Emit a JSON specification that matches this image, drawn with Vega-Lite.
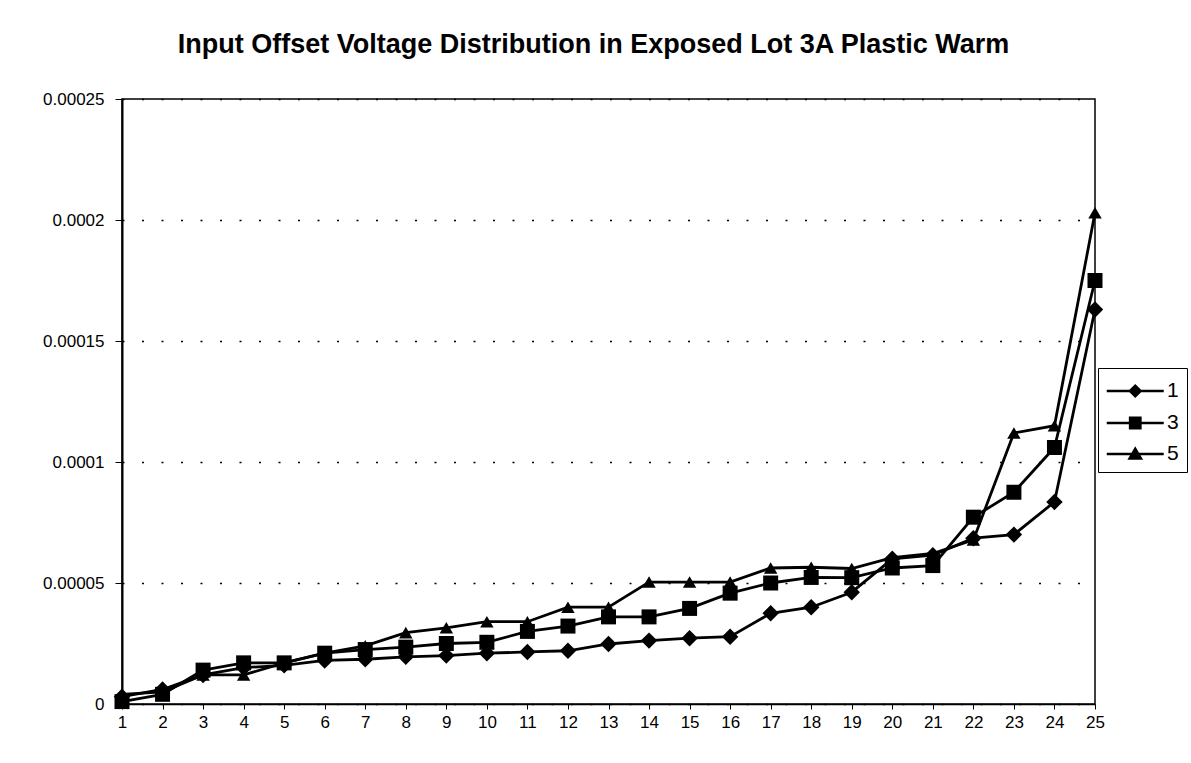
{
  "$schema": "https://vega.github.io/schema/vega-lite/v6.json",
  "width": 973,
  "height": 605,
  "autosize": {"type": "none"},
  "padding": {"left": 122, "top": 99, "right": 96, "bottom": 59},
  "background": "white",
  "title": {
    "text": "Input Offset Voltage Distribution in Exposed Lot 3A Plastic Warm",
    "font": "Liberation Sans",
    "fontSize": 27,
    "fontWeight": "bold",
    "color": "black",
    "anchor": "middle",
    "offset": 31,
    "dx": -15
  },
  "data": {
    "values": [
      {"n": 1, "s": "1", "v": 0.000003}, {"n": 2, "s": "1", "v": 0.000006}, {"n": 3, "s": "1", "v": 0.000012}, {"n": 4, "s": "1", "v": 0.000015}, {"n": 5, "s": "1", "v": 0.000016},
      {"n": 6, "s": "1", "v": 0.000018}, {"n": 7, "s": "1", "v": 0.0000185}, {"n": 8, "s": "1", "v": 0.0000195}, {"n": 9, "s": "1", "v": 0.00002}, {"n": 10, "s": "1", "v": 0.000021},
      {"n": 11, "s": "1", "v": 0.0000215}, {"n": 12, "s": "1", "v": 0.000022}, {"n": 13, "s": "1", "v": 0.0000248}, {"n": 14, "s": "1", "v": 0.0000262}, {"n": 15, "s": "1", "v": 0.0000272},
      {"n": 16, "s": "1", "v": 0.0000278}, {"n": 17, "s": "1", "v": 0.0000375}, {"n": 18, "s": "1", "v": 0.00004}, {"n": 19, "s": "1", "v": 0.0000462}, {"n": 20, "s": "1", "v": 0.00006},
      {"n": 21, "s": "1", "v": 0.0000615}, {"n": 22, "s": "1", "v": 0.0000685}, {"n": 23, "s": "1", "v": 0.00007}, {"n": 24, "s": "1", "v": 0.0000835}, {"n": 25, "s": "1", "v": 0.000163},
      {"n": 1, "s": "3", "v": 0.000001}, {"n": 2, "s": "3", "v": 0.000004}, {"n": 3, "s": "3", "v": 0.000014}, {"n": 4, "s": "3", "v": 0.000017}, {"n": 5, "s": "3", "v": 0.000017},
      {"n": 6, "s": "3", "v": 0.000021}, {"n": 7, "s": "3", "v": 0.0000225}, {"n": 8, "s": "3", "v": 0.0000235}, {"n": 9, "s": "3", "v": 0.000025}, {"n": 10, "s": "3", "v": 0.0000255},
      {"n": 11, "s": "3", "v": 0.00003}, {"n": 12, "s": "3", "v": 0.0000322}, {"n": 13, "s": "3", "v": 0.000036}, {"n": 14, "s": "3", "v": 0.000036}, {"n": 15, "s": "3", "v": 0.0000395},
      {"n": 16, "s": "3", "v": 0.0000458}, {"n": 17, "s": "3", "v": 0.00005}, {"n": 18, "s": "3", "v": 0.0000523}, {"n": 19, "s": "3", "v": 0.0000522}, {"n": 20, "s": "3", "v": 0.0000562},
      {"n": 21, "s": "3", "v": 0.0000572}, {"n": 22, "s": "3", "v": 0.0000772}, {"n": 23, "s": "3", "v": 0.0000875}, {"n": 24, "s": "3", "v": 0.000106}, {"n": 25, "s": "3", "v": 0.000175},
      {"n": 1, "s": "5", "v": 0.000004}, {"n": 2, "s": "5", "v": 0.000005}, {"n": 3, "s": "5", "v": 0.000012}, {"n": 4, "s": "5", "v": 0.000012}, {"n": 5, "s": "5", "v": 0.000017},
      {"n": 6, "s": "5", "v": 0.000021}, {"n": 7, "s": "5", "v": 0.000024}, {"n": 8, "s": "5", "v": 0.0000295}, {"n": 9, "s": "5", "v": 0.0000315}, {"n": 10, "s": "5", "v": 0.000034},
      {"n": 11, "s": "5", "v": 0.000034}, {"n": 12, "s": "5", "v": 0.00004}, {"n": 13, "s": "5", "v": 0.00004}, {"n": 14, "s": "5", "v": 0.0000504}, {"n": 15, "s": "5", "v": 0.0000504},
      {"n": 16, "s": "5", "v": 0.0000504}, {"n": 17, "s": "5", "v": 0.0000562}, {"n": 18, "s": "5", "v": 0.0000565}, {"n": 19, "s": "5", "v": 0.000056}, {"n": 20, "s": "5", "v": 0.0000605},
      {"n": 21, "s": "5", "v": 0.0000622}, {"n": 22, "s": "5", "v": 0.0000678}, {"n": 23, "s": "5", "v": 0.000112}, {"n": 24, "s": "5", "v": 0.000115}, {"n": 25, "s": "5", "v": 0.000203}
    ]
  },
  "encoding": {
    "x": {
      "field": "n",
      "type": "ordinal",
      "scale": {"type": "point", "padding": 0},
      "axis": {
        "title": null,
        "labelAngle": 0,
        "grid": false,
        "domainColor": "black",
        "domainWidth": 1.5,
        "tickColor": "black",
        "tickSize": 5,
        "labelFont": "Liberation Sans",
        "labelFontSize": 17,
        "labelColor": "black",
        "labelPadding": 5
      }
    },
    "y": {
      "field": "v",
      "type": "quantitative",
      "scale": {"domain": [0, 0.00025], "nice": false},
      "axis": {
        "title": null,
        "values": [0, 0.00005, 0.0001, 0.00015, 0.0002, 0.00025],
        "format": ".5~f",
        "grid": true,
        "gridColor": "black",
        "gridDash": [2, 17.5],
        "gridWidth": 1.3,
        "domainColor": "black",
        "domainWidth": 2,
        "tickColor": "black",
        "tickSize": 7,
        "labelFont": "Liberation Sans",
        "labelFontSize": 17,
        "labelColor": "black",
        "labelPadding": 11
      }
    }
  },
  "layer": [
    {
      "mark": {"type": "line", "color": "black", "strokeWidth": 2.8},
      "encoding": {"detail": {"field": "s", "type": "nominal"}}
    },
    {
      "mark": {"type": "point", "filled": true, "color": "black", "opacity": 1},
      "encoding": {
        "shape": {
          "field": "s",
          "type": "nominal",
          "scale": {"domain": ["1", "3", "5"], "range": ["diamond", "square", "triangle-up"]},
          "legend": null
        },
        "size": {
          "field": "s",
          "type": "nominal",
          "scale": {"domain": ["1", "3", "5"], "range": [270, 180, 210]},
          "legend": null
        }
      }
    },
    {
      "transform": [{"filter": "datum.n > 100"}],
      "mark": {"type": "point", "filled": true, "color": "black", "opacity": 1},
      "encoding": {
        "shape": {
          "field": "s",
          "type": "nominal",
          "scale": {
            "domain": ["1", "3", "5"],
            "range": [
              "M-1,-0.09H3V0.09H-1ZM1,-0.5L1.5,0L1,0.5L0.5,0Z",
              "M-1,-0.09H3V0.09H-1ZM0.55,-0.45H1.45V0.45H0.55Z",
              "M-1,-0.09H3V0.09H-1ZM1,-0.55L1.55,0.4H0.45Z"
            ]
          },
          "legend": {
            "orient": "none",
            "legendX": 976,
            "legendY": 269,
            "title": null,
            "strokeColor": "black",
            "fillColor": "white",
            "padding": 8,
            "rowPadding": 6,
            "labelFont": "Liberation Sans",
            "labelFontSize": 21,
            "labelColor": "black",
            "labelOffset": 31,
            "symbolSize": 812,
            "symbolFillColor": "black",
            "symbolOpacity": 1
          }
        }
      }
    }
  ],
  "resolve": {"scale": {"shape": "independent", "size": "independent"}},
  "config": {
    "view": {"stroke": "black", "strokeWidth": 1.5}
  }
}
